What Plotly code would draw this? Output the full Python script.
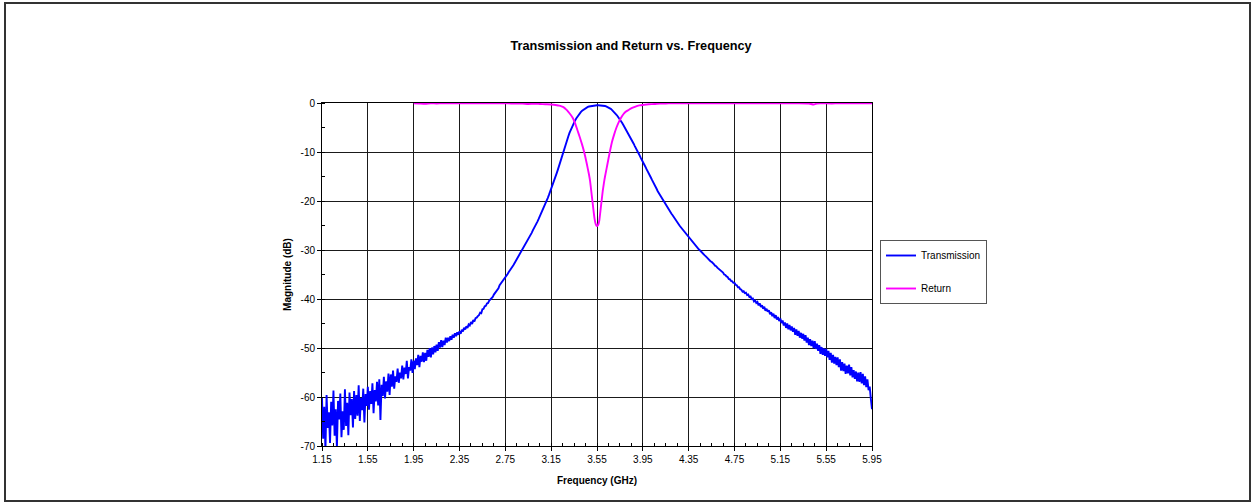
import plotly.graph_objects as go

# ---------------- data ----------------
chart_title = "Transmission and Return vs. Frequency"
x_title = "Frequency (GHz)"
y_title = "Magnitude (dB)"
series_names = ["Transmission", "Return"]

trans_start_ghz = 1.15
trans_step_ghz = 0.01
# Transmission (dB), one value every 0.01 GHz from 1.15 to 5.95 GHz
transmission_db = [
    -60.2, -68.5, -62.0, -70.8, -59.6, -66.3, -63.1, -69.4, -61.0, -65.8,   # 1.15
    -58.7, -67.9, -62.5, -70.5, -60.8, -64.6, -59.3, -68.2, -62.9, -66.7,   # 1.25
    -58.4, -65.9, -61.2, -67.8, -59.1, -63.7, -60.4, -66.2, -58.8, -64.5,   # 1.35
    -59.6, -63.8, -57.6, -64.9, -60.2, -62.7, -58.3, -65.2, -59.4, -61.8,   # 1.45
    -57.9, -62.6, -58.8, -61.4, -57.2, -63.3, -58.6, -60.9, -56.9, -61.7,   # 1.55
    -56.4, -64.7, -57.5, -59.8, -55.9, -60.3, -56.8, -58.9, -55.2, -59.6,   # 1.65
    -55.4, -57.9, -54.6, -58.3, -55.8, -56.9, -54.2, -57.1, -55.0, -56.2,   # 1.75
    -53.6, -56.4, -54.0, -55.3, -52.6, -56.2, -53.9, -54.6, -52.3, -55.1,   # 1.85
    -52.6, -54.3, -52.1, -53.5, -51.4, -53.9, -51.6, -52.8, -50.9, -52.9,   # 1.95
    -51.0, -52.6, -50.4, -51.8, -50.0, -51.9, -49.9, -51.3, -49.6, -50.9,   # 2.05
    -49.3, -50.6, -48.8, -49.9, -48.4, -49.8, -48.5, -49.4, -47.9, -48.9,   # 2.15
    -47.9, -48.6, -47.6, -48.3, -47.3, -47.9, -47.0, -47.6, -46.8, -47.3,   # 2.25
    -46.6, -47.1, -46.3, -46.6, -45.9, -46.2, -45.6, -45.9, -45.2, -45.4,   # 2.35
    -44.7, -45.1, -44.3, -44.6, -43.9, -43.8, -43.5, -43.3, -42.8, -42.9,   # 2.45
    -42.1, -42.0, -41.5, -41.4, -40.9, -40.8, -40.3, -40.1, -39.8, -39.6,   # 2.55
    -39.1, -38.8, -38.5, -38.0, -37.8, -37.2, -36.9, -36.6, -36.3, -35.9,   # 2.65
    -35.6, -35.2, -34.9, -34.5, -34.2, -33.8, -33.4, -33.1, -32.7, -32.3,   # 2.75
    -31.9, -31.5, -31.1, -30.7, -30.3, -29.9, -29.5, -29.1, -28.6, -28.2,   # 2.85
    -27.8, -27.4, -26.9, -26.5, -26.0, -25.6, -25.1, -24.6, -24.2, -23.7,   # 2.95
    -23.2, -22.7, -22.2, -21.7, -21.1, -20.6, -20.0, -19.4, -18.8, -18.2,   # 3.05
    -17.6, -17.0, -16.3, -15.6, -14.9, -14.2, -13.5, -12.7, -12.0, -11.2,   # 3.15
    -10.4, -9.7, -9.0, -8.2, -7.5, -6.8, -6.1, -5.5, -5.0, -4.5,            # 3.25
    -3.9, -3.5, -3.1, -2.7, -2.3, -2.0, -1.8, -1.6, -1.4, -1.2,             # 3.35
    -1.0, -0.9, -0.8, -0.72, -0.66, -0.6, -0.56, -0.52, -0.49, -0.47,       # 3.45
    -0.45, -0.45, -0.46, -0.47, -0.48, -0.5, -0.55, -0.62, -0.7, -0.8,      # 3.55
    -0.9, -1.05, -1.2, -1.4, -1.6, -1.8, -2.1, -2.4, -2.7, -3.0,            # 3.65
    -3.3, -3.7, -4.1, -4.5, -4.9, -5.4, -5.8, -6.2, -6.6, -7.0,             # 3.75
    -7.4, -7.9, -8.3, -8.8, -9.2, -9.7, -10.2, -10.6, -11.1, -11.5,         # 3.85
    -12.0, -12.5, -12.9, -13.4, -13.8, -14.3, -14.8, -15.2, -15.7, -16.1,   # 3.95
    -16.6, -17.1, -17.5, -18.0, -18.4, -18.8, -19.2, -19.6, -20.0, -20.4,   # 4.05
    -20.8, -21.2, -21.5, -21.9, -22.3, -22.6, -22.9, -23.3, -23.6, -24.0,   # 4.15
    -24.3, -24.6, -25.0, -25.3, -25.6, -25.9, -26.2, -26.5, -26.8, -27.1,   # 4.25
    -27.4, -27.7, -28.0, -28.3, -28.5, -28.8, -29.1, -29.4, -29.6, -29.9,   # 4.35
    -30.1, -30.4, -30.6, -30.9, -31.1, -31.3, -31.6, -31.8, -32.0, -32.3,   # 4.45
    -32.4, -32.8, -32.9, -33.2, -33.3, -33.6, -33.8, -34.1, -34.2, -34.5,   # 4.55
    -34.6, -35.0, -35.1, -35.4, -35.5, -35.9, -36.0, -36.3, -36.4, -36.7,   # 4.65
    -36.7, -37.1, -37.2, -37.6, -37.6, -38.0, -38.1, -38.5, -38.4, -38.8,   # 4.75
    -38.7, -39.2, -39.1, -39.6, -39.5, -40.0, -39.9, -40.5, -40.3, -40.8,   # 4.85
    -40.6, -41.3, -40.9, -41.6, -41.3, -42.0, -41.6, -42.4, -42.0, -42.6,   # 4.95
    -42.3, -43.1, -42.7, -43.5, -43.0, -43.9, -43.3, -44.2, -43.7, -44.5,   # 5.05
    -44.0, -44.9, -44.4, -45.4, -44.8, -45.9, -45.0, -46.2, -45.3, -46.4,   # 5.15
    -45.6, -46.7, -45.9, -47.3, -46.2, -47.5, -46.5, -47.9, -46.9, -48.1,   # 5.25
    -47.1, -48.5, -47.4, -48.9, -47.9, -49.4, -48.2, -49.6, -48.5, -50.0,   # 5.35
    -48.6, -50.2, -49.1, -50.6, -49.4, -51.2, -49.8, -51.4, -50.1, -51.6,   # 5.45
    -50.2, -51.9, -50.6, -52.4, -51.0, -53.0, -51.4, -53.2, -51.8, -53.5,   # 5.55
    -51.9, -53.9, -52.3, -54.6, -52.9, -54.7, -53.2, -55.3, -53.6, -55.2,   # 5.65
    -53.4, -55.6, -53.9, -56.0, -54.5, -56.3, -54.8, -56.8, -55.0, -56.9,   # 5.75
    -54.9, -57.2, -55.3, -57.6, -55.8, -58.0, -56.4, -58.6, -57.9, -60.4,   # 5.85
    -62.5,                                                                  # 5.95
]

# Return (dB) at the listed frequencies (GHz)
return_freq_ghz = [
    1.95, 2.00, 2.05, 2.10, 2.15, 2.20, 2.25, 2.30, 2.35, 2.40, 2.45, 2.50,
    2.55, 2.60, 2.65, 2.70, 2.75, 2.80, 2.85, 2.90, 2.95, 3.00, 3.05, 3.10,
    3.15, 3.20, 3.22, 3.24, 3.26, 3.28, 3.30, 3.32, 3.34, 3.36, 3.38, 3.40,
    3.42, 3.44, 3.46, 3.48, 3.49, 3.50, 3.51, 3.52, 3.53, 3.54, 3.55, 3.56,
    3.57, 3.58, 3.59, 3.60, 3.61, 3.62, 3.63, 3.64, 3.66, 3.68, 3.70, 3.72,
    3.74, 3.76, 3.78, 3.80, 3.82, 3.84, 3.88, 3.92, 3.96, 4.00, 4.05, 4.10,
    4.15, 4.20, 4.30, 4.40, 4.50, 4.60, 4.70, 4.80, 4.90, 5.00, 5.10, 5.20,
    5.30, 5.40, 5.44, 5.47, 5.50, 5.60, 5.65, 5.70, 5.80, 5.90, 5.95,
]
return_db = [
    -0.05, -0.1, -0.15, -0.05, -0.1, -0.05, -0.05, -0.05, -0.05, -0.05, -0.05, -0.05,
    -0.05, -0.05, -0.05, -0.05, -0.05, -0.1, -0.1, -0.1, -0.2, -0.15, -0.2, -0.25,
    -0.3, -0.45, -0.55, -0.7, -0.9, -1.3, -1.8, -2.4, -3.1, -4.2, -5.6, -7.0,
    -8.5, -10.2, -12.3, -14.6, -16.0, -18.0, -20.0, -22.0, -23.8, -24.8, -25.1, -24.9,
    -24.0, -22.0, -20.0, -18.0, -16.4, -15.0, -13.8, -12.6, -10.2, -8.0, -6.4, -5.0,
    -3.9, -3.0, -2.3, -1.8, -1.5, -1.2, -0.8, -0.5, -0.35, -0.25, -0.2, -0.1,
    -0.1, -0.05, -0.05, -0.05, -0.05, -0.05, -0.05, -0.05, -0.05, -0.05, -0.05, -0.05,
    -0.05, -0.1, -0.3, -0.1, -0.05, -0.1, -0.05, -0.05, -0.05, -0.05, -0.05,
]

x_tick_values = [1.15, 1.55, 1.95, 2.35, 2.75, 3.15, 3.55, 3.95, 4.35, 4.75, 5.15, 5.55, 5.95]
x_tick_labels = ["1.15", "1.55", "1.95", "2.35", "2.75", "3.15", "3.55", "3.95",
                 "4.35", "4.75", "5.15", "5.55", "5.95"]
y_tick_values = [0, -10, -20, -30, -40, -50, -60, -70]
y_tick_labels = ["0", "-10", "-20", "-30", "-40", "-50", "-60", "-70"]

trans_freq_ghz = [round(trans_start_ghz + trans_step_ghz * i, 2) for i in range(len(transmission_db))]

# ---------------- figure ----------------
W, H = 1253, 504
L, R, T, B = 322, 381, 103, 58
FONT = "Liberation Sans, Arial, sans-serif"

fig = go.Figure()
fig.add_trace(go.Scatter(
    x=trans_freq_ghz, y=transmission_db, mode="lines", name=series_names[0],
    line=dict(color="#0000FF", width=1.9), legendgroup="a",
))
fig.add_trace(go.Scatter(
    x=return_freq_ghz, y=return_db, mode="lines", name=series_names[1],
    line=dict(color="#FF00FF", width=1.9, shape="spline", smoothing=0.6), legendgroup="b",
))

pw = W - L - R
ph = H - T - B

def px_to_paper_x(px):
    return (px - L) / pw

def px_to_paper_y(py):
    return (H - B - py) / ph

fig.update_layout(
    width=W, height=H,
    margin=dict(l=L, r=R, t=T, b=B, pad=0),
    paper_bgcolor="white", plot_bgcolor="white",
    font=dict(family=FONT, size=10, color="#000000"),
    title=dict(text="<b>" + chart_title + "</b>", font=dict(size=12.7, color="#000000"),
               x=631 / W, xref="container", xanchor="center",
               y=1 - 46 / H, yref="container", yanchor="middle"),
    showlegend=True,
    legend=dict(
        x=px_to_paper_x(880), y=px_to_paper_y(240), xanchor="left", yanchor="top",
        bgcolor="white", bordercolor="#555555", borderwidth=1,
        font=dict(size=10, color="#000000"), tracegroupgap=14,
        itemwidth=30,
    ),
    xaxis=dict(
        range=[1.15, 5.95], tickmode="array", tickvals=x_tick_values, ticktext=x_tick_labels,
        showgrid=True, gridcolor="#1a1a1a", gridwidth=1,
        showline=True, linecolor="#000000", linewidth=1, mirror=True,
        ticks="outside", ticklen=4, tickcolor="#000000", tickfont=dict(size=10),
        minor=dict(dtick=0.1, tick0=1.15, ticks="inside", ticklen=3, tickcolor="#000000", showgrid=False),
        title=dict(text="<b>" + x_title + "</b>", font=dict(size=10), standoff=12),
        zeroline=False,
    ),
    yaxis=dict(
        range=[-70, 0], tickmode="array", tickvals=y_tick_values, ticktext=y_tick_labels,
        showgrid=True, gridcolor="#1a1a1a", gridwidth=1,
        showline=True, linecolor="#000000", linewidth=1, mirror=True,
        ticks="outside", ticklen=4, tickcolor="#000000", tickfont=dict(size=10),
        minor=dict(dtick=5, tick0=0, ticks="inside", ticklen=3, tickcolor="#000000", showgrid=False),
        title=dict(text="<b>" + y_title + "</b>", font=dict(size=10), standoff=7),
        zeroline=False,
    ),
    shapes=[dict(
        type="rect", xref="paper", yref="paper", layer="below",
        x0=px_to_paper_x(5), x1=px_to_paper_x(1250),
        y0=px_to_paper_y(501), y1=px_to_paper_y(3),
        line=dict(color="#333333", width=2), fillcolor="rgba(0,0,0,0)",
    )],
)

fig.write_html(
    "out.html",
    config={"displayModeBar": False},
    post_script="document.body.style.margin='0';document.body.style.overflow='hidden';",
)
